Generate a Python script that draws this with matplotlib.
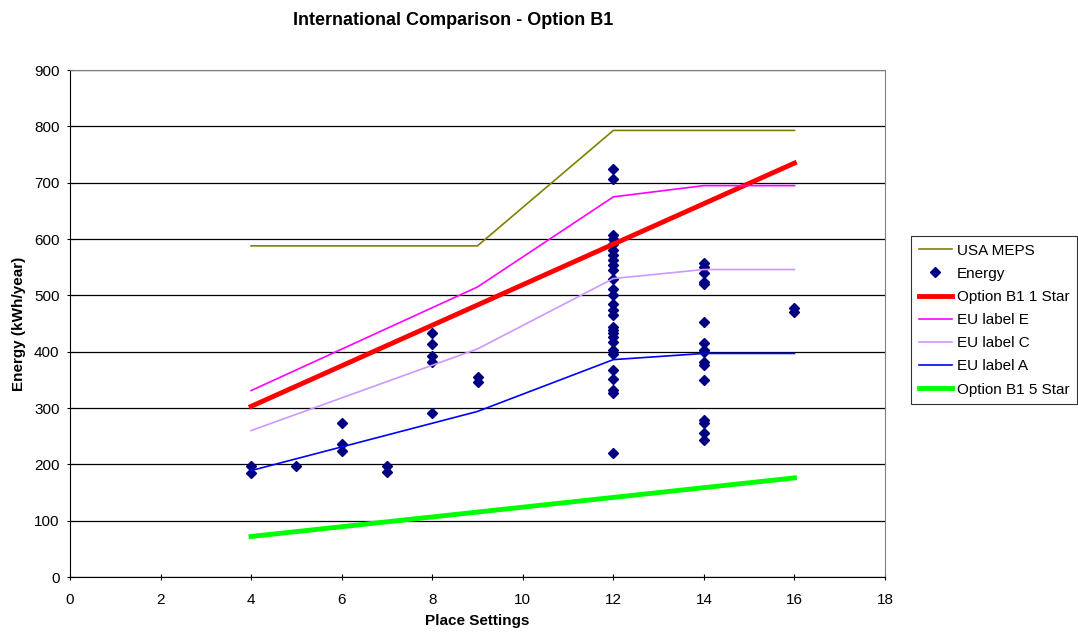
import matplotlib
matplotlib.use("Agg")
import matplotlib.pyplot as plt

plt.rcParams['font.family'] = ['Liberation Sans', 'DejaVu Sans']

# line series
meps_x = [4, 9, 12, 16]
meps_y = [588, 588, 793, 793]
eu_x = [4, 9, 12, 14, 16]
eu_e = [331, 515, 675, 695, 695]
eu_c = [260, 405, 530, 546, 546]
eu_a = [189, 294, 386, 397, 397]
star_x = [4, 16]
star1_y = [303, 735]
star5_y = [72, 176]

# measured models (place settings, kWh/year)
energy_x = [4, 4, 5, 6, 6, 6, 7, 7,
            8, 8, 8, 8, 8, 9, 9,
            12, 12, 12, 12, 12, 12, 12, 12, 12, 12, 12, 12, 12, 12,
            12, 12, 12, 12, 12, 12, 12, 12, 12, 12, 12, 12, 12, 12,
            14, 14, 14, 14, 14, 14, 14, 14, 14, 14, 14, 14, 14, 14, 14, 14,
            16, 16]
energy_y = [198, 185, 198, 274, 237, 224, 198, 187,
            434, 414, 393, 382, 292, 356, 346,
            724, 706, 607, 601, 592, 581, 572, 563, 554, 546, 530, 511, 501, 485,
            475, 465, 444, 439, 433, 427, 418, 403, 396, 367, 351, 332, 326, 221,
            557, 551, 539, 524, 521, 452, 416, 403, 400, 382, 376, 350, 279, 274, 256, 244,
            478, 470]

fig = plt.figure(figsize=(10.78, 6.32), dpi=100)
ax = fig.add_axes([0.0649, 0.087, 0.7561, 0.802])

ax.plot(meps_x, meps_y, color='#808000', lw=1.2, label='USA MEPS')
ax.plot(energy_x, energy_y, ls='none', marker='D', ms=5, color='#000080', label='Energy')
ax.plot(star_x, star1_y, color='#FF0000', lw=3.5, label='Option B1 1 Star')
ax.plot(eu_x, eu_e, color='#FF00FF', lw=1.2, label='EU label E')
ax.plot(eu_x, eu_c, color='#CC99FF', lw=1.2, label='EU label C')
ax.plot(eu_x, eu_a, color='#0000FF', lw=1.2, label='EU label A')
ax.plot(star_x, star5_y, color='#00FF00', lw=3.5, label='Option B1 5 Star')

ax.set_xlim(0, 18)
ax.set_ylim(0, 900)
ax.set_xticks(range(0, 19, 2))
ax.set_yticks(range(0, 901, 100))
ax.yaxis.grid(True, color='black', lw=0.9)
ax.set_axisbelow(True)
ax.tick_params(direction='inout', length=5, labelsize=11)
ax.tick_params(axis='x', pad=9)
ax.tick_params(axis='y', pad=5)
for s in ['top', 'right']:
    ax.spines[s].set_color('#808080')
for s in ['left', 'bottom']:
    ax.spines[s].set_color('black')

ax.set_xlabel('Place Settings', fontsize=11, fontweight='bold', labelpad=5)
ax.set_ylabel('Energy (kWh/year)', fontsize=11, fontweight='bold', labelpad=6)
fig.text(0.42, 0.967, 'International Comparison - Option B1', ha='center', va='center',
         fontsize=13, fontweight='bold')

leg = fig.legend(loc='upper left', bbox_to_anchor=(911 / 1078, 1 - 236 / 632),
                 fontsize=11, frameon=True, fancybox=False, edgecolor='black',
                 handlelength=2.2, handletextpad=0.3, borderpad=0.5, labelspacing=0.6,
                 borderaxespad=0)
leg.get_frame().set_linewidth(0.8)

fig.savefig('out.png', dpi=100)
